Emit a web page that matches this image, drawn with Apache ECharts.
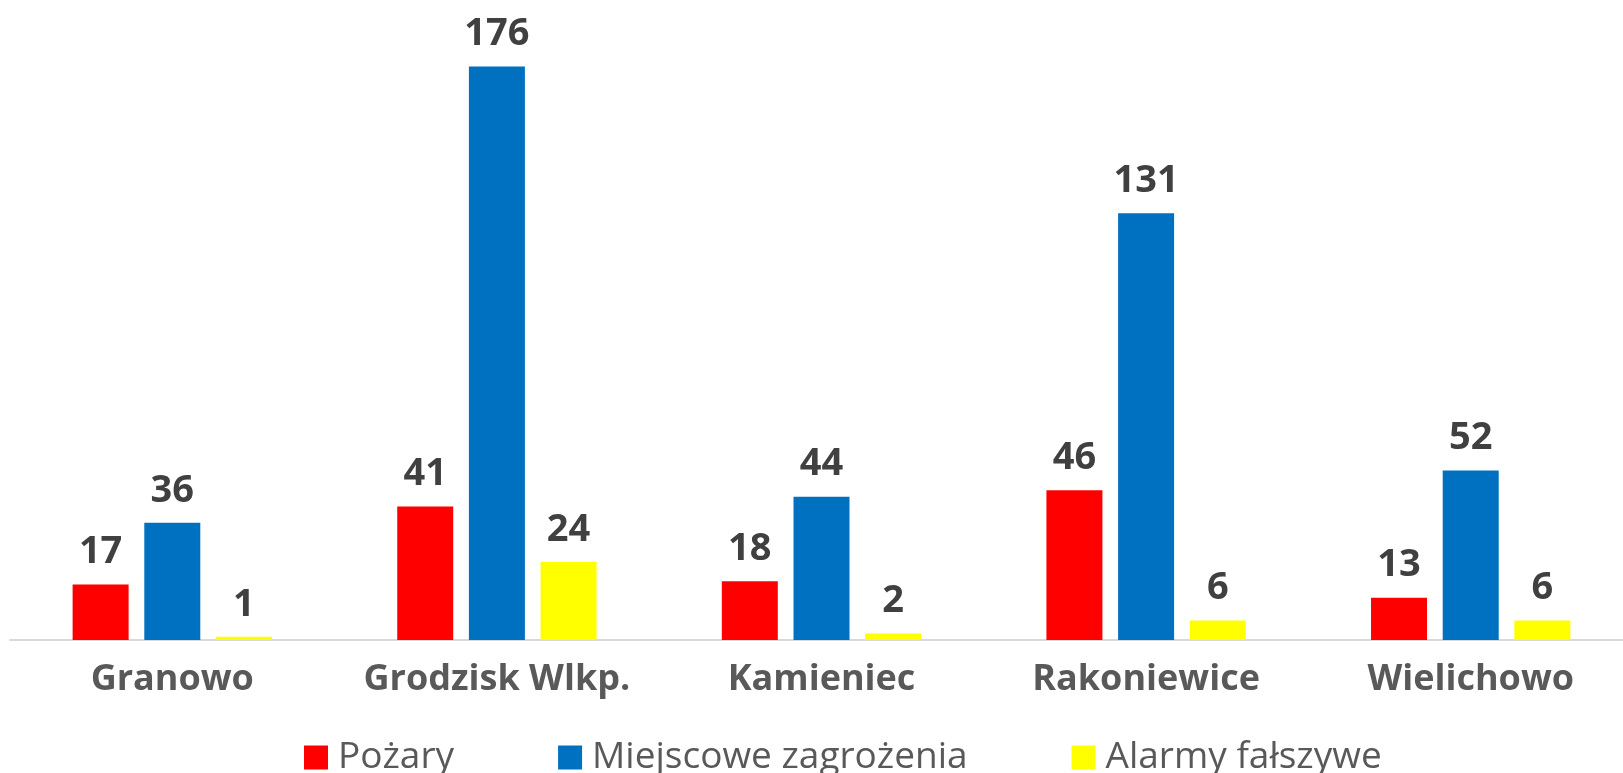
<!DOCTYPE html>
<html>
<head>
<meta charset="utf-8">
<title>Interwencje</title>
<script src="https://cdn.jsdelivr.net/npm/echarts@6/dist/echarts.min.js"></script>
<style>
  html, body { margin: 0; padding: 0; background: #fff; overflow: hidden; }
  #wrap { width: 1623px; height: 773px; overflow: hidden; }
  #main { width: 1640px; height: 773px; }
</style>
</head>
<body>
<div id="wrap"><div id="main"></div></div>
<script>
// dane
var gminy = ['Granowo', 'Grodzisk Wlkp.', 'Kamieniec', 'Rakoniewice', 'Wielichowo']
var pozary = [17, 41, 18, 46, 13]
var miejscowe = [36, 176, 44, 131, 52]
var alarmy = [1, 24, 2, 6, 6]
var nazwySerii = ['Pożary', 'Miejscowe zagrożenia', 'Alarmy fałszywe']

// wykres jest troche szerszy niz okno, ostatnia kategoria jest przycieta jak w oryginale
var chart = echarts.init(document.getElementById('main'), null, {
  width: 1640,
  height: 773
})

var etykieta = {
  show: true,
  position: 'top',
  distance: 13,
  color: '#404040',
  fontFamily: 'Open Sans',
  fontWeight: 'bold',
  fontSize: 38
}

function seria(name, data, color) {
  return {
    name: name,
    type: 'bar',
    data: data,
    barWidth: 56,
    barGap: '28%',
    itemStyle: { color: color },
    label: etykieta
  }
}

var option = {
  animation: false,
  grid: {
    left: 10,
    right: 7,
    top: 21,
    bottom: 133
  },
  legend: {
    left: 299,
    top: 734,
    itemWidth: 24,
    itemHeight: 24,
    itemGap: 104,
    icon: 'rect',
    data: nazwySerii,
    textStyle: {
      color: '#595959',
      fontFamily: 'Open Sans',
      fontSize: 37,
      padding: [0, 0, 0, 5]
    }
  },
  xAxis: {
    type: 'category',
    data: gminy,
    axisLine: { lineStyle: { color: '#d9d9d9', width: 2 } },
    axisTick: { show: false },
    axisLabel: {
      interval: 0,
      color: '#595959',
      fontFamily: 'Open Sans',
      fontWeight: 'bold',
      fontSize: 36,
      margin: 22
    }
  },
  yAxis: {
    type: 'value',
    min: 0,
    max: 190,
    show: false,
    splitLine: { show: false }
  },
  series: [
    seria(nazwySerii[0], pozary, '#FF0000'),
    seria(nazwySerii[1], miejscowe, '#0070C0'),
    seria(nazwySerii[2], alarmy, '#FFFF00')
  ]
}
chart.setOption(option)
</script>
</body>
</html>
